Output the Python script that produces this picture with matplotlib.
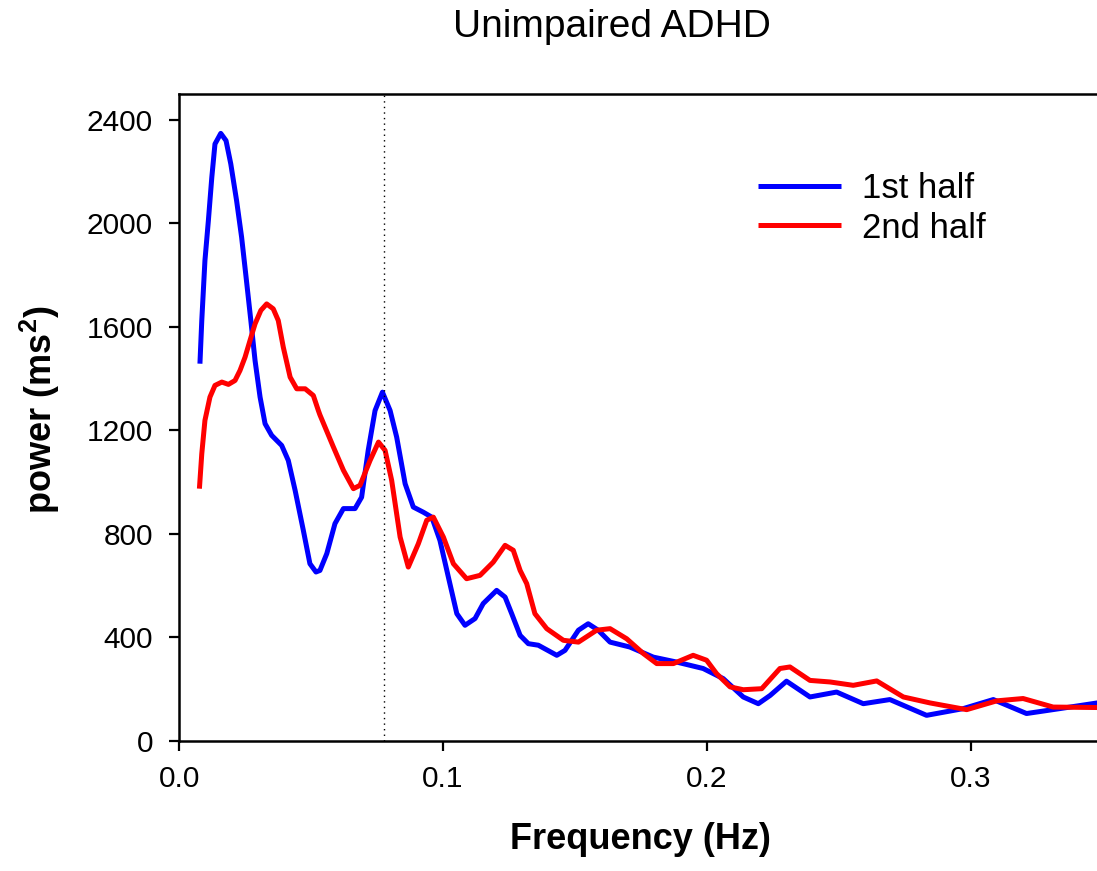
import numpy as np
import matplotlib
matplotlib.use("Agg")
import matplotlib.pyplot as plt

plt.rcParams["font.family"] = ["Liberation Sans", "DejaVu Sans"]
plt.rcParams["mathtext.fontset"] = "custom"
plt.rcParams["mathtext.bf"] = "Liberation Sans:bold"

# 1st half (blue): frequency (Hz), power (ms^2)
freq_first = [0.0078, 0.0085, 0.0097, 0.0110, 0.0123, 0.0135, 0.0157, 0.0177,
              0.0195, 0.0217, 0.0236, 0.0253, 0.0271, 0.0287, 0.0306, 0.0325,
              0.0350, 0.0388, 0.0413, 0.0439, 0.0470, 0.0495, 0.0518, 0.0533,
              0.0559, 0.0590, 0.0622, 0.0666, 0.0691, 0.0716, 0.0742, 0.0770,
              0.0799, 0.0824, 0.0856, 0.0887, 0.0925, 0.0957, 0.0988, 0.1020,
              0.1052, 0.1083, 0.1121, 0.1152, 0.1203, 0.1235, 0.1260, 0.1292,
              0.1323, 0.1361, 0.1431, 0.1462, 0.1513, 0.1550, 0.1588, 0.1633,
              0.1708, 0.1797, 0.1885, 0.1986, 0.2062, 0.2138, 0.2195, 0.2240,
              0.2302, 0.2391, 0.2492, 0.2593, 0.2694, 0.2833, 0.2972, 0.3086,
              0.3212, 0.3338, 0.3500]
power_first = [1458, 1625, 1857, 2011, 2178, 2307, 2348, 2320,
               2230, 2088, 1947, 1792, 1625, 1470, 1329, 1226,
               1181, 1142, 1084, 968, 814, 685, 653, 659,
               724, 840, 898, 898, 942, 1123, 1277, 1348,
               1277, 1174, 994, 904, 884, 865, 775, 633,
               492, 447, 473, 531, 582, 556, 492, 408,
               376, 370, 331, 350, 428, 453, 428, 382,
               363, 324, 305, 280, 241, 170, 144, 176,
               231, 170, 189, 144, 160, 99, 125, 160,
               106, 125, 150]

# 2nd half (red)
freq_second = [0.0076, 0.0085, 0.0097, 0.0116, 0.0135, 0.0161, 0.0186, 0.0211,
               0.0230, 0.0249, 0.0268, 0.0287, 0.0309, 0.0331, 0.0356, 0.0375,
               0.0394, 0.0420, 0.0445, 0.0477, 0.0508, 0.0527, 0.0533, 0.0584,
               0.0622, 0.0660, 0.0685, 0.0723, 0.0755, 0.0780, 0.0805, 0.0837,
               0.0868, 0.0906, 0.0938, 0.0963, 0.1001, 0.1039, 0.1089, 0.1140,
               0.1190, 0.1235, 0.1266, 0.1292, 0.1317, 0.1348, 0.1393, 0.1456,
               0.1513, 0.1582, 0.1633, 0.1696, 0.1759, 0.1810, 0.1873, 0.1948,
               0.1999, 0.2037, 0.2088, 0.2138, 0.2208, 0.2277, 0.2315, 0.2391,
               0.2467, 0.2555, 0.2644, 0.2745, 0.2846, 0.2985, 0.3099, 0.3199,
               0.3313, 0.3500]
power_second = [975, 1110, 1239, 1329, 1374, 1387, 1378, 1393,
                1432, 1483, 1548, 1612, 1664, 1689, 1670, 1625,
                1522, 1406, 1361, 1361, 1335, 1277, 1260, 1136,
                1046, 975, 988, 1084, 1155, 1123, 1007, 788,
                672, 762, 853, 865, 788, 685, 627, 640,
                691, 756, 737, 659, 608, 492, 434, 389,
                382, 428, 434, 395, 338, 299, 299, 331,
                312, 260, 209, 198, 202, 280, 286, 234,
                228, 215, 232, 170, 147, 121, 155, 164,
                131, 129]

marker_freq = 0.0776

fig = plt.figure(figsize=(10.97, 8.71), dpi=100)
ax = fig.add_axes([0.1635, 0.1493, 0.8415, 0.7427])

ax.plot(freq_first, power_first, color="#0000ff", lw=3.6, label="1st half",
        solid_joinstyle="round", solid_capstyle="butt")
ax.plot(freq_second, power_second, color="#ff0000", lw=3.6, label="2nd half",
        solid_joinstyle="round", solid_capstyle="butt")
ax.axvline(marker_freq, color="black", lw=1.0, ls=(0, (1, 3)))

ax.set_xlim(0, 0.35)
ax.set_ylim(0, 2500)
ax.set_xticks([0.0, 0.1, 0.2, 0.3])
ax.set_xticklabels(["0.0", "0.1", "0.2", "0.3"])
ax.set_yticks([0, 400, 800, 1200, 1600, 2000, 2400])

ax.spines["right"].set_visible(False)
for s in ["left", "bottom", "top"]:
    ax.spines[s].set_linewidth(1.8)
ax.tick_params(direction="out", length=7, width=1.6, labelsize=21.5,
               top=False, right=False)
ax.tick_params(axis="y", pad=12)
ax.tick_params(axis="x", pad=10)

ax.set_xlabel("Frequency (Hz)", fontsize=26, fontweight="bold")
ax.xaxis.set_label_coords(0.5, -0.125)
ax.set_ylabel(r"power (ms$^\mathbf{2}$)", fontsize=26, fontweight="bold")
ax.yaxis.set_label_coords(-0.127, 0.512)
fig.text(0.558, 0.969, "Unimpaired ADHD", fontsize=28, ha="center", va="center")

ax.legend(loc="upper left", bbox_to_anchor=(0.627, 0.88), frameon=False,
          fontsize=25, handlelength=2.4, handletextpad=0.6, labelspacing=0.2,
          borderpad=0, borderaxespad=0)

fig.savefig("out.png", dpi=100)
